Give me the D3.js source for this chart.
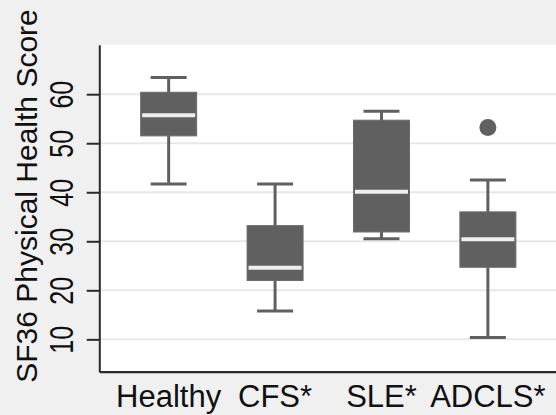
<!DOCTYPE html>
<html>
<head>
<meta charset="utf-8">
<script src="https://cdn.jsdelivr.net/npm/d3@7"></script>
<style>
  body { margin: 0; background: #f0f0f0; }
  svg { display: block; }
</style>
</head>
<body>
<svg id="chart"></svg>
<script>
WIDTH = 556;
HEIGHT = 415;
PLOT = { top: 44.7, right: 556, bottom: 371.7, left: 99.3 };

// data
var groups = ["Healthy", "CFS*", "SLE*", "ADCLS*"];
var lowWhisker = [41.7, 15.8, 30.5, 10.4];
var q1 = [51.5, 22.0, 31.9, 24.7];
var median = [55.7, 24.6, 40.1, 30.4];
var q3 = [60.4, 33.2, 54.7, 36.0];
var highWhisker = [63.4, 41.7, 56.5, 42.5];
var outlierGroup = ["ADCLS*"];
var outlierValue = [53.2];
var yTicks = [10, 20, 30, 40, 50, 60];
var yTitle = "SF36 Physical Health Score";

var BOX_COLOR = "#606060";

function main() {
    var svg = d3.select("#chart")
        .attr("width", WIDTH)
        .attr("height", HEIGHT);

    svg.append("rect")
        .attr("width", WIDTH).attr("height", HEIGHT)
        .attr("fill", "#f0f0f0");

    svg.append("rect")
        .attr("x", PLOT.left).attr("y", PLOT.top)
        .attr("width", PLOT.right - PLOT.left)
        .attr("height", PLOT.bottom - PLOT.top)
        .attr("fill", "#ffffff");

    var y = d3.scaleLinear().domain([3.4, 70.1]).range([PLOT.bottom, PLOT.top]);
    var x = d3.scaleBand().domain(groups)
        .range([PLOT.left, PLOT.right])
        .paddingInner(0).paddingOuter(0.146).align(0.52);

    // grid lines
    svg.append("g").selectAll("line")
        .data(yTicks).enter().append("line")
        .attr("x1", PLOT.left).attr("x2", PLOT.right)
        .attr("y1", function(d) { return y(d); })
        .attr("y2", function(d) { return y(d); })
        .attr("stroke", "#e8e8e8")
        .attr("stroke-width", 2);

    drawBoxes(svg, x, y);

    // y axis
    var yAxis = svg.append("g")
        .attr("transform", "translate(" + PLOT.left + ",0)")
        .call(d3.axisLeft(y).tickValues(yTicks).tickSize(12.6).tickSizeOuter(0));
    yAxis.select(".domain").attr("stroke", "#2a2a2a").attr("stroke-width", 2);
    yAxis.selectAll(".tick line").attr("stroke", "#2a2a2a").attr("stroke-width", 2);
    yAxis.selectAll(".tick text")
        .attr("x", 0).attr("y", 0).attr("dy", null)
        .attr("text-anchor", "middle")
        .attr("transform", "translate(-26.3,0) rotate(-90) scale(1,1.3)")
        .style("font", "25px 'Liberation Sans', Arial, sans-serif")
        .attr("fill", "#111");

    // x axis
    var xAxis = svg.append("g")
        .attr("transform", "translate(0," + PLOT.bottom + ")")
        .call(d3.axisBottom(x).tickSize(0).tickSizeOuter(0));
    xAxis.select(".domain").attr("stroke", "#2a2a2a").attr("stroke-width", 2.2);
    xAxis.selectAll(".tick text")
        .attr("y", 35).attr("dy", null)
        .style("font", "31px 'Liberation Sans', Arial, sans-serif")
        .attr("fill", "#111");

    // y axis title
    svg.append("text")
        .attr("transform", "translate(36.7," + ((10 + 382) / 2) + ") rotate(-90)")
        .attr("text-anchor", "middle")
        .style("font", "30px 'Liberation Sans', Arial, sans-serif")
        .attr("fill", "#111")
        .text(yTitle);
}

function drawBoxes(svg, x, y) {
    var boxW = 56;
    var capW = 36;
    var data = groups.map(function(g, i) {
        return { name: g, lo: lowWhisker[i], q1: q1[i], med: median[i], q3: q3[i], hi: highWhisker[i] };
    });

    var box = svg.append("g").selectAll(".box")
        .data(data).enter().append("g")
        .attr("class", "box")
        .attr("transform", function(d) {
            return "translate(" + (x(d.name) + x.bandwidth() / 2) + ",0)";
        });

    // whiskers
    box.append("line")
        .attr("x1", 0).attr("x2", 0)
        .attr("y1", function(d) { return y(d.hi); })
        .attr("y2", function(d) { return y(d.lo); })
        .attr("stroke", BOX_COLOR).attr("stroke-width", 3);
    box.append("line")
        .attr("x1", -capW / 2).attr("x2", capW / 2)
        .attr("y1", function(d) { return y(d.hi); })
        .attr("y2", function(d) { return y(d.hi); })
        .attr("stroke", BOX_COLOR).attr("stroke-width", 3);
    box.append("line")
        .attr("x1", -capW / 2).attr("x2", capW / 2)
        .attr("y1", function(d) { return y(d.lo); })
        .attr("y2", function(d) { return y(d.lo); })
        .attr("stroke", BOX_COLOR).attr("stroke-width", 3);

    box.append("rect")
        .attr("x", -boxW / 2).attr("width", boxW)
        .attr("y", function(d) { return y(d.q3); })
        .attr("height", function(d) { return y(d.q1) - y(d.q3); })
        .attr("fill", BOX_COLOR)
        .attr("stroke", "#6c6c6c").attr("stroke-width", 1);

    // median
    box.append("line")
        .attr("x1", -boxW / 2 + 1.5).attr("x2", boxW / 2 - 1.5)
        .attr("y1", function(d) { return y(d.med); })
        .attr("y2", function(d) { return y(d.med); })
        .attr("stroke", "#eeeeee").attr("stroke-width", 4);

    svg.append("g").selectAll("circle")
        .data(outlierValue).enter().append("circle")
        .attr("cx", function(d, i) { return x(outlierGroup[i]) + x.bandwidth() / 2; })
        .attr("cy", function(d) { return y(d); })
        .attr("r", 8.5)
        .attr("fill", BOX_COLOR);
}

main();
</script>
</body>
</html>
